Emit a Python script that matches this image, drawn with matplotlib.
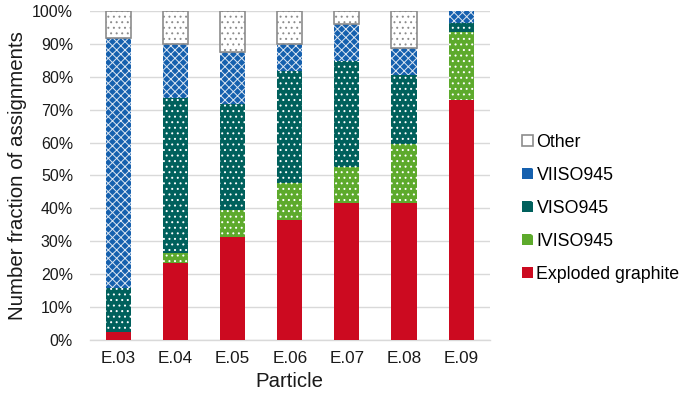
import matplotlib.pyplot as plt
from matplotlib.patches import Patch
import numpy as np

plt.rcParams['font.family'] = ['Liberation Sans', 'DejaVu Sans']
plt.rcParams['hatch.linewidth'] = 0.7

particles = ['E.03', 'E.04', 'E.05', 'E.06', 'E.07', 'E.08', 'E.09']
# percentages, bottom to top
exploded = [2.5, 23.5, 31.4, 36.5, 41.5, 41.5, 72.9]
iviso = [0.0, 2.8, 8.1, 11.3, 11.0, 18.1, 20.6]
viso = [13.3, 47.3, 32.1, 34.0, 32.3, 20.9, 2.9]
viiso = [75.9, 16.3, 16.0, 8.1, 11.2, 8.3, 3.6]
other = [8.3, 10.1, 12.4, 10.1, 4.0, 11.2, 0.0]

series = [
    ('Exploded graphite', exploded, '#CC0A20', None, None),
    ('IVISO945', iviso, '#5DAA2C', '...', 'white'),
    ('VISO945', viso, '#00605C', '...', 'white'),
    ('VIISO945', viiso, '#1560AE', 'xxxx', '#DCE6F2'),
    ('Other', other, 'white', '...', '#8C8C8C'),
]

fig = plt.figure(figsize=(6.85, 4.01), dpi=100)
ax = fig.add_axes([0.131, 0.152, 0.584, 0.821])

x = np.arange(len(particles))
bottom = np.zeros(len(particles))
handles = []
for name, vals, col, hatch, hcol in series:
    vals = np.array(vals)
    if hatch is None:
        ax.bar(x, vals, 0.44, bottom=bottom, color=col, linewidth=0, zorder=3)
        handles.append(Patch(facecolor=col, linewidth=0))
    else:
        ax.bar(x, vals, 0.44, bottom=bottom, facecolor=col, edgecolor=hcol,
               hatch=hatch, linewidth=0, zorder=3)
        if name == 'Other':
            handles.append(Patch(facecolor=col, edgecolor=hcol, hatch='.', linewidth=1.2))
        else:
            handles.append(Patch(facecolor=col, edgecolor=hcol, hatch='.', linewidth=0))
    if name == 'Other':
        ax.bar(x[vals > 0], vals[vals > 0], 0.44, bottom=bottom[vals > 0],
               fill=False, edgecolor='#8C8C8C', linewidth=1.2, zorder=4)
    bottom += vals

ax.set_ylim(0, 100)
ax.set_xlim(-0.5, len(particles) - 0.5)
ax.set_yticks(np.arange(0, 101, 10))
ax.set_yticklabels([f'{v}%' for v in range(0, 101, 10)])
ax.set_xticks(x)
ax.set_xticklabels(particles)
ax.tick_params(axis='both', length=0, labelsize=11.5, colors='#1a1a1a')
ax.tick_params(axis='x', labelsize=12.3, pad=8)
ax.tick_params(axis='y', pad=12)
ax.grid(axis='y', color='#D9D9D9', linewidth=1, zorder=0)
for s in ['top', 'right', 'left']:
    ax.spines[s].set_visible(False)
ax.spines['bottom'].set_color('#D9D9D9')
ax.spines['bottom'].set_linewidth(1)

ax.set_xlabel('Particle', fontsize=14.7, color='#1a1a1a', labelpad=4)
ax.set_ylabel('Number fraction of assignments', fontsize=14.8, color='#1a1a1a', labelpad=4)

labels = [s[0] for s in series]
leg = ax.legend(handles[::-1], labels[::-1], loc='center left',
                bbox_to_anchor=(1.05, 0.40), frameon=False, fontsize=12.8,
                handlelength=0.6, handleheight=0.6, handletextpad=0.2,
                labelspacing=0.9, borderpad=0.2)

fig.savefig('out.png', dpi=100)
